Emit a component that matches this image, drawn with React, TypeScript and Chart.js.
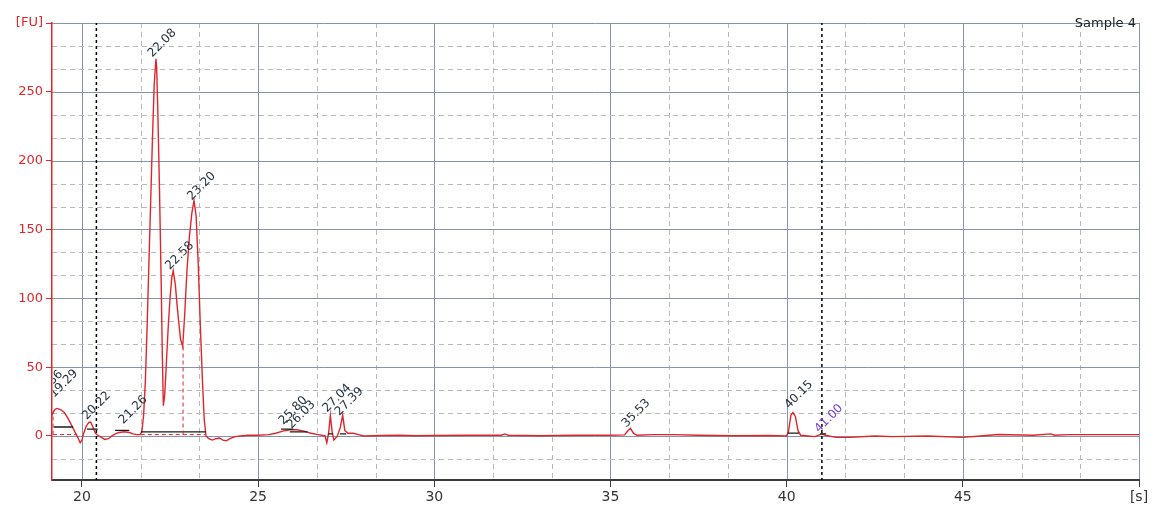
import React, { useEffect, useRef } from "react";
import { Chart, registerables } from "chart.js";

Chart.register(...registerables);

// ---- axis ticks ----
const xTicks = [20, 25, 30, 35, 40, 45, 50];
const yTicks = [0, 50, 100, 150, 200, 250, 300];
const xMin = 19.15;
const xMax = 50;
const yMin = -32;
const yMax = 300;

// ---- electropherogram trace (time [s], fluorescence [FU]) ----
const traceTime = [
  19.15, 19.2, 19.25, 19.3, 19.4, 19.5, 19.6, 19.7, 19.8, 19.88,
  19.95, 20.0, 20.05, 20.12, 20.2, 20.25, 20.32, 20.38, 20.45, 20.55,
  20.65, 20.75, 20.85, 20.95, 21.05, 21.2, 21.35, 21.45, 21.55, 21.65,
  21.7, 21.75, 21.8, 21.85, 21.9, 21.95, 22.0, 22.05, 22.1, 22.12,
  22.15, 22.2, 22.25, 22.28, 22.31, 22.35, 22.4, 22.45, 22.5, 22.55,
  22.59, 22.65, 22.7, 22.75, 22.8, 22.86, 22.92, 22.98, 23.05, 23.12,
  23.18, 23.24, 23.3, 23.36, 23.42, 23.47, 23.52, 23.6, 23.7, 23.8,
  23.9, 24.0, 24.1, 24.2, 24.35, 24.5, 24.7, 25.0, 25.3, 25.5,
  25.7, 25.9, 26.1, 26.3, 26.5, 26.7, 26.9, 26.95, 27.0, 27.05,
  27.1, 27.15, 27.25, 27.33, 27.4, 27.46, 27.55, 27.7, 27.85, 28.0,
  28.5, 29.0, 29.5, 30.0, 31.0, 31.9, 32.0, 32.1, 33.0, 34.0,
  35.0, 35.4, 35.5, 35.57, 35.65, 35.75, 36.2, 36.8, 37.5, 38.5,
  39.5, 40.0, 40.05, 40.12, 40.18, 40.25, 40.32, 40.4, 40.6, 40.8,
  41.0, 41.1, 41.4, 41.8, 42.5, 43.0, 44.0, 45.0, 45.5, 46.0,
  47.0, 47.5, 47.6, 48.0, 49.0, 50.0,
];
const traceFU = [
  15, 18, 19.5, 20, 19, 17, 13, 8, 3, -1,
  -5, -3, 2, 7, 10, 10, 6, 2, 0.5, -1,
  -2.5, -2, 0, 1.5, 2.5, 3, 2.5, 1.5, 1, 1,
  3, 15, 40, 80, 125, 170, 215, 255, 274, 268,
  240, 180, 110, 60, 22, 30, 55, 80, 100, 115,
  120, 110, 95, 82, 70, 65, 90, 120, 145, 162,
  171, 160, 125, 80, 40, 12, 0, -2, -3, -2,
  -1.5, -3, -3.5, -2, -0.5, 0, 0.5, 0.5, 1, 2,
  3.5, 4.5, 4.5, 3.5, 2, 1, 0, -5, 2, 15,
  3, -3, 0, 6, 15, 4, 2, 2, 1, 0,
  0.3, 0.5, 0.2, 0.3, 0.5, 0.5, 1.5, 0.5, 0.2, 0.5,
  0.5, 0.8, 4, 5.5, 2, 0.5, 1, 1, 0.5, 0.2,
  0.3, 0, 3, 15, 17, 14, 4, 0.5, 0, -0.5,
  1.5, 0.5, -1, -1, 0, -0.5, 0, -1, 0, 1,
  0.5, 1.5, 0.5, 1, 1, 1,
];

// ---- peak integration baselines (black) ----
const baselineStart = [19.2, 20.14, 20.94, 21.67, 25.65, 25.9, 26.98, 27.32, 40.03, 40.95];
const baselineEnd = [19.75, 20.45, 21.34, 23.52, 26.0, 26.4, 27.12, 27.5, 40.35, 41.12];
const baselineFU = [6.5, 5, 4, 3, 5, 3, 1.5, 1.5, 2, 1.5];

// ---- peak boundaries (red dashed) ----
const boundaryTime = [19.18, 22.87];
const boundaryTop = [17, 65];
const fitBaseStart = [19.18, 21.67];
const fitBaseEnd = [19.85, 23.5];
const fitBaseFU = [1, 1];

// ---- markers (black dotted) ----
const markerTimes = [20.41, 41.0];

// ---- peak labels ----
const peakLabels = ["18.86", "19.29", "20.22", "21.26", "22.08", "22.58", "23.20", "25.80", "26.03", "27.04", "27.39", "35.53", "40.15", "41.00"];
const peakLabelTime = [18.86, 19.29, 20.22, 21.26, 22.08, 22.58, 23.2, 25.8, 26.03, 27.04, 27.39, 35.53, 40.15, 41.0];
const peakLabelFU = [27, 27.5, 11.5, 8.5, 275, 120.5, 171, 8, 5, 17, 14.5, 6, 19.5, 2.2];
const peakLabelColor = ["#1e2d3b", "#1e2d3b", "#1e2d3b", "#1e2d3b", "#1e2d3b", "#1e2d3b", "#1e2d3b", "#1e2d3b", "#1e2d3b", "#1e2d3b", "#1e2d3b", "#1e2d3b", "#1e2d3b", "#7a3fd4"];

const sampleName = "Sample 4";

const FONT = "DejaVu Sans";
const RED = "#e0262c";

export default function App() {
  const ref = useRef<HTMLCanvasElement>(null);

  useEffect(() => {
    const canvas = ref.current;
    if (!canvas) return;

    const trace = traceTime.map((t, i) => ({ x: t, y: traceFU[i] }));

    const base: any[] = [];
    baselineStart.forEach((s, i) => {
      base.push({ x: s, y: baselineFU[i] }, { x: baselineEnd[i], y: baselineFU[i] }, { x: baselineEnd[i], y: null });
    });

    const bounds: any[] = [];
    boundaryTime.forEach((t, i) => {
      bounds.push({ x: t, y: fitBaseFU[0] }, { x: t, y: boundaryTop[i] }, { x: t, y: null });
    });
    fitBaseStart.forEach((s, i) => {
      bounds.push({ x: s, y: fitBaseFU[i] }, { x: fitBaseEnd[i], y: fitBaseFU[i] }, { x: fitBaseEnd[i], y: null });
    });

    const markers: any[] = [];
    markerTimes.forEach((t) => {
      markers.push({ x: t, y: yMin - 5 }, { x: t, y: yMax + 5 }, { x: t, y: null });
    });

    const gridPlugin = {
      id: "customGrid",
      beforeDraw(chart: any) {
        const { ctx, chartArea, scales } = chart;
        const { left, right, top, bottom } = chartArea;
        const xs = scales.x;
        const ys = scales.y;
        ctx.save();
        ctx.fillStyle = "#ffffff";
        ctx.fillRect(0, 0, chart.width, chart.height);
        ctx.lineWidth = 1;
        for (let k = -1; k <= 18; k++) {
          const v = 20 + (k * 5) / 3;
          if (v < xMin - 1e-6 || v > xMax + 1e-6) continue;
          const major = k % 3 === 0;
          const px = Math.round(xs.getPixelForValue(v)) + 0.5;
          ctx.strokeStyle = major ? "#8494aa" : "#b9b9b9";
          ctx.setLineDash(major ? [] : [5, 4]);
          ctx.beginPath();
          ctx.moveTo(px, top);
          ctx.lineTo(px, bottom);
          ctx.stroke();
        }
        for (let k = -2; k <= 18; k++) {
          const v = (k * 50) / 3;
          if (v < yMin - 1e-6 || v > yMax + 1e-6) continue;
          const major = k % 3 === 0;
          const py = Math.round(ys.getPixelForValue(v)) + 0.5;
          ctx.strokeStyle = major ? "#8494aa" : "#b9b9b9";
          ctx.setLineDash(major ? [] : [5, 4]);
          ctx.beginPath();
          ctx.moveTo(left, py);
          ctx.lineTo(right, py);
          ctx.stroke();
        }
        ctx.restore();
      },
    };

    const labelPlugin = {
      id: "peakLabels",
      afterDatasetsDraw(chart: any) {
        const { ctx, chartArea, scales } = chart;
        const xs = scales.x;
        const ys = scales.y;
        ctx.save();
        ctx.beginPath();
        ctx.rect(chartArea.left + 1, 0, chartArea.right - chartArea.left, chartArea.bottom);
        ctx.clip();
        ctx.font = `12px "${FONT}"`;
        ctx.textAlign = "left";
        ctx.textBaseline = "alphabetic";
        peakLabels.forEach((lab, i) => {
          const px = xs.getPixelForValue(peakLabelTime[i]);
          const py = ys.getPixelForValue(peakLabelFU[i]);
          ctx.save();
          ctx.translate(px - 3, py);
          ctx.rotate(-Math.PI / 4);
          ctx.fillStyle = peakLabelColor[i];
          ctx.fillText(lab, 0, 0);
          ctx.restore();
        });
        ctx.restore();

        ctx.save();
        ctx.font = `13px "${FONT}"`;
        ctx.fillStyle = "#222222";
        ctx.textAlign = "right";
        ctx.textBaseline = "alphabetic";
        ctx.fillText(sampleName, chartArea.right - 3, 27);
        ctx.restore();
      },
    };

    const chart = new Chart(canvas, {
      type: "line",
      data: {
        datasets: [
          {
            label: "markers",
            data: markers,
            borderColor: "#000000",
            borderWidth: 1.5,
            borderDash: [3, 3],
            pointRadius: 0,
            spanGaps: false,
          },
          {
            label: "boundaries",
            data: bounds,
            borderColor: RED,
            borderWidth: 1,
            borderDash: [4, 3],
            pointRadius: 0,
            spanGaps: false,
          },
          {
            label: "baselines",
            data: base,
            borderColor: "#1a1a1a",
            borderWidth: 1.3,
            pointRadius: 0,
            spanGaps: false,
          },
          {
            label: sampleName,
            data: trace,
            borderColor: RED,
            borderWidth: 1.4,
            pointRadius: 0,
            tension: 0,
          },
        ],
      },
      options: {
        responsive: false,
        animation: false,
        devicePixelRatio: 1,
        layout: { padding: { top: 23, right: 17, left: 0, bottom: 0 } },
        plugins: {
          legend: { display: false },
          tooltip: { enabled: false },
        },
        scales: {
          x: {
            type: "linear",
            min: xMin,
            max: xMax,
            afterBuildTicks: (scale: any) => {
              scale.ticks = xTicks.map((v) => ({ value: v }));
            },
            afterFit: (scale: any) => {
              scale.height = 28;
            },
            ticks: {
              autoSkip: false,
              maxRotation: 0,
              padding: 2,
              color: "#333333",
              font: { family: FONT, size: 14 },
              callback: (v: any) => (Number(v) === 50 ? "[s]" : String(v)),
            },
            grid: {
              display: true,
              drawOnChartArea: false,
              drawTicks: true,
              tickLength: 7,
              color: "#3a3a3a",
            },
            border: { display: true, color: "#3a3a3a", width: 2 },
          },
          y: {
            type: "linear",
            min: yMin,
            max: yMax,
            afterBuildTicks: (scale: any) => {
              scale.ticks = yTicks.map((v) => ({ value: v }));
            },
            afterFit: (scale: any) => {
              scale.width = 52;
            },
            ticks: {
              autoSkip: false,
              padding: 3,
              color: RED,
              font: { family: FONT, size: 13 },
              callback: (v: any) => (Number(v) === 300 ? "[FU]" : String(v)),
            },
            grid: {
              display: true,
              drawOnChartArea: false,
              drawTicks: true,
              tickLength: 6,
              color: RED,
            },
            border: { display: true, color: RED, width: 1.5 },
          },
        },
      },
      plugins: [gridPlugin, labelPlugin],
    } as any);

    return () => chart.destroy();
  }, []);

  return (
    <div style={{ width: 1156, height: 508 }}>
      <style>{"body{margin:0}"}</style>
      <canvas ref={ref} width={1156} height={508} style={{ display: "block" }} />
    </div>
  );
}
